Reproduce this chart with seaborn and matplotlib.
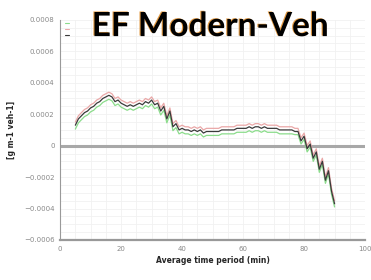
import numpy as np
import pandas as pd
import matplotlib
matplotlib.use("Agg")
import matplotlib.pyplot as plt
import matplotlib.patheffects as pe
from matplotlib.ticker import MultipleLocator, FuncFormatter
import seaborn as sns

# time axis (min)
minutes = list(range(5, 91))

# emission factors, units of 1e-4 g m-1 veh-1
ef_mean = [1.3, 1.7, 1.9, 2.1, 2.2, 2.4, 2.5, 2.7, 2.8, 3.0, 3.1, 3.2,
           3.1, 2.8, 2.9, 2.7, 2.6, 2.5, 2.6, 2.5, 2.6, 2.7, 2.6, 2.8, 2.7, 2.9, 2.6, 2.7, 2.2, 2.5, 1.7, 2.2,
           1.2, 1.4, 1.0, 1.1, 1.0, 1.0, 0.9, 1.0, 0.9, 1.0, 0.8, 0.9, 0.9, 0.9, 0.9, 0.9, 1.0, 1.0, 1.0, 1.0,
           1.0, 1.1, 1.1, 1.1, 1.1, 1.2, 1.1, 1.2, 1.2, 1.1, 1.2, 1.1, 1.1, 1.1, 1.1, 1.0, 1.0, 1.0, 1.0, 1.0,
           0.9, 0.9, 0.3, 0.6, -0.2, 0.1, -0.8, -0.4, -1.5, -1.0, -2.2, -1.6, -2.9, -3.7]
ef_upper = [1.5, 1.9, 2.1, 2.3, 2.4, 2.6, 2.7, 2.9, 3.0, 3.2, 3.3, 3.4,
            3.3, 3.0, 3.1, 2.9, 2.8, 2.7, 2.8, 2.7, 2.8, 2.9, 2.8, 3.0, 2.9, 3.1, 2.8, 2.9, 2.4, 2.7, 1.9, 2.4,
            1.4, 1.6, 1.2, 1.3, 1.2, 1.2, 1.1, 1.2, 1.1, 1.2, 1.0, 1.1, 1.1, 1.1, 1.1, 1.1, 1.2, 1.2, 1.2, 1.2,
            1.2, 1.3, 1.3, 1.3, 1.3, 1.4, 1.3, 1.4, 1.4, 1.3, 1.4, 1.3, 1.3, 1.3, 1.3, 1.2, 1.2, 1.2, 1.2, 1.2,
            1.1, 1.1, 0.5, 0.8, 0.0, 0.3, -0.6, -0.2, -1.3, -0.8, -2.0, -1.4, -2.7, -3.5]
ef_lower = [1.05, 1.45, 1.65, 1.85, 1.95, 2.15, 2.25, 2.45, 2.55, 2.75, 2.85, 2.95,
            2.85, 2.55, 2.65, 2.45, 2.35, 2.25, 2.35, 2.25, 2.35, 2.45, 2.35, 2.55, 2.45, 2.65, 2.35, 2.45, 1.95, 2.25, 1.45, 1.95,
            0.95, 1.15, 0.75, 0.85, 0.75, 0.75, 0.65, 0.75, 0.65, 0.75, 0.55, 0.65, 0.65, 0.65, 0.65, 0.65, 0.75, 0.75, 0.75, 0.75,
            0.75, 0.85, 0.85, 0.85, 0.85, 0.95, 0.85, 0.95, 0.95, 0.85, 0.95, 0.85, 0.85, 0.85, 0.85, 0.75, 0.75, 0.75, 0.75, 0.75,
            0.7, 0.7, 0.1, 0.4, -0.4, -0.1, -1.0, -0.6, -1.7, -1.2, -2.4, -1.8, -3.1, -3.9]

series_names = ["lower", "upper", "mean"]
series_colors = {"lower": "#8bdc8b", "upper": "#eaa8a8", "mean": "#3a3a3a"}

df = pd.DataFrame({
    "t": minutes * 3,
    "ef": np.array(ef_lower + ef_upper + ef_mean) * 1e-4,
    "series": ["lower"] * len(minutes) + ["upper"] * len(minutes) + ["mean"] * len(minutes),
})

sns.set_style("white")
plt.rcParams["font.family"] = ["DejaVu Sans"]

fig = plt.figure(figsize=(3.71, 2.8), dpi=100)
ax = fig.add_axes([0.162, 0.143, 0.822, 0.786])

ax.axhline(0, color="#a8a8a8", lw=2.2, zorder=1)
sns.lineplot(data=df, x="t", y="ef", hue="series", hue_order=series_names,
             palette=series_colors, lw=0.9, ax=ax, legend=False, zorder=3)

ax.set_xlim(0, 100)
ax.set_ylim(-0.0006, 0.0008)
ax.xaxis.set_major_locator(MultipleLocator(20))
ax.xaxis.set_minor_locator(MultipleLocator(5))
ax.yaxis.set_major_locator(MultipleLocator(0.0002))
ax.yaxis.set_minor_locator(MultipleLocator(0.00005))
ax.yaxis.set_major_formatter(FuncFormatter(lambda v, p: "0" if abs(v) < 1e-9 else f"{v:.4f}".replace("-", "\u2212")))

ax.grid(True, which="both", color="#f1f1f1", lw=0.6)
for s in ["top", "right"]:
    ax.spines[s].set_visible(False)
ax.spines["left"].set_color("#999999")
ax.spines["bottom"].set_color("#999999")
ax.spines["bottom"].set_linewidth(1.6)
ax.tick_params(which="major", direction="inout", length=4, width=0.6, color="#888888",
               labelsize=5, labelcolor="#888888", pad=2)
ax.tick_params(which="minor", direction="inout", length=2.5, width=0.6, color="#888888")

ax.set_xlabel("Average time period (min)", fontsize=5.5, fontweight="bold", labelpad=3)
ax.set_ylabel("[g m-1 veh-1]", fontsize=5.5, fontweight="bold", labelpad=6)

# small legend stubs at the top left
handles = [plt.Line2D([], [], color=series_colors[k], lw=0.8) for k in ["lower", "upper", "mean"]]
ax.legend(handles, ["", "", ""], loc="upper left", bbox_to_anchor=(0.0, 1.02), frameon=False,
          handlelength=0.7, handletextpad=0.0, labelspacing=0.2, fontsize=4)

fig.text(0.566, 0.905, "EF Modern-Veh", ha="center", va="center", fontsize=24,
         fontweight="bold", family=["Lato", "DejaVu Sans"], color="black",
         path_effects=[pe.SimplePatchShadow(offset=(-0.8, 0.4), shadow_rgbFace="#e09030", alpha=0.9),
                       pe.Normal()])

fig.savefig("out.png", dpi=100)
